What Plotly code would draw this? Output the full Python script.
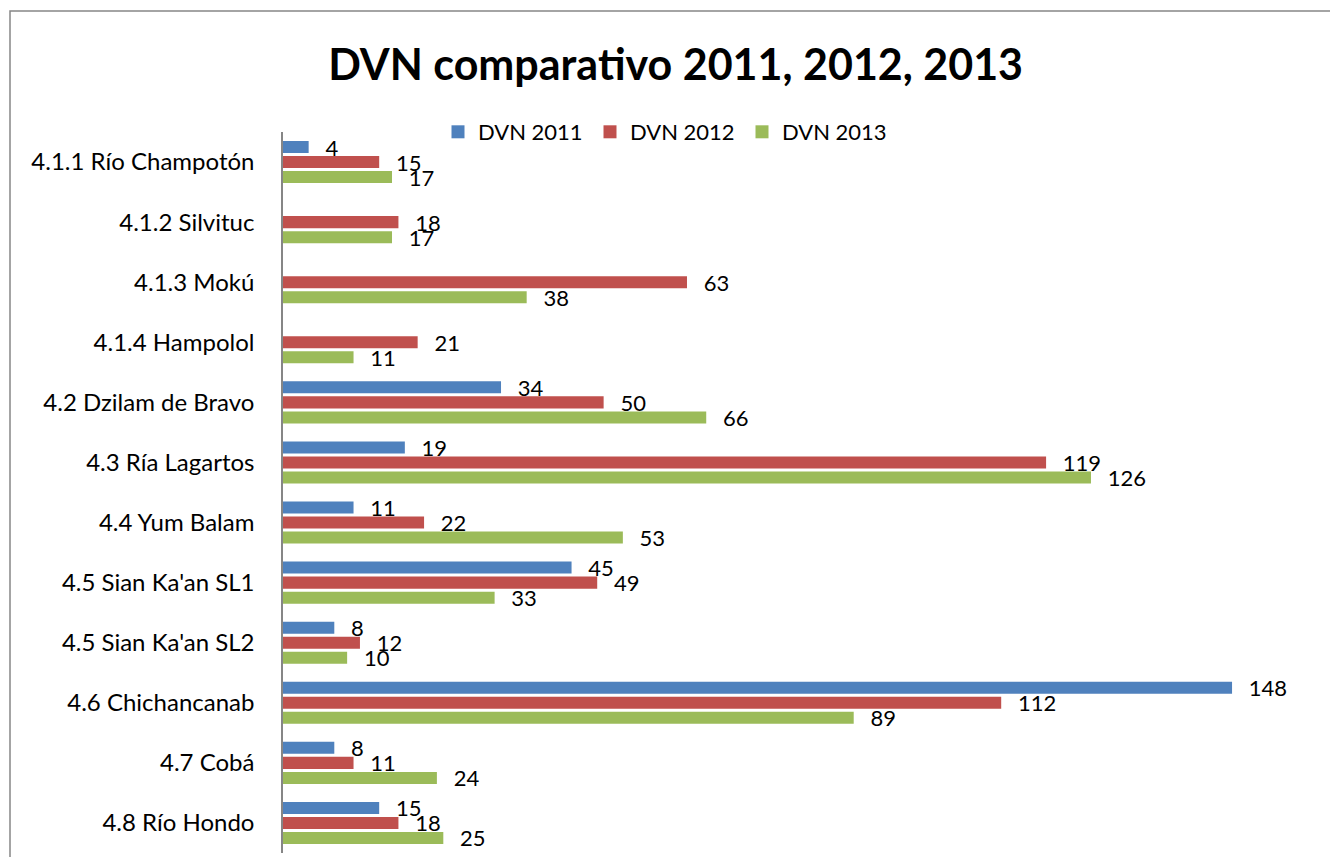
import plotly.graph_objects as go

categories = [
    "4.1.1 Río Champotón", "4.1.2 Silvituc", "4.1.3 Mokú", "4.1.4 Hampolol",
    "4.2 Dzilam de Bravo", "4.3 Ría Lagartos", "4.4 Yum Balam",
    "4.5 Sian Ka'an SL1", "4.5 Sian Ka'an SL2", "4.6 Chichancanab",
    "4.7 Cobá", "4.8 Río Hondo",
]
dvn_2011 = [4, None, None, None, 34, 19, 11, 45, 8, 148, 8, 15]
dvn_2012 = [15, 18, 63, 21, 50, 119, 22, 49, 12, 112, 11, 18]
dvn_2013 = [17, 17, 38, 11, 66, 126, 53, 33, 10, 89, 24, 25]
series_names = ["DVN 2011", "DVN 2012", "DVN 2013"]
colors = ["#4F81BD", "#C0504D", "#9BBB59"]

FONT = "Lato"
pad = "\u2002\u2009"

fig = go.Figure()
for name, vals, col in zip(series_names, [dvn_2011, dvn_2012, dvn_2013], colors):
    fig.add_trace(go.Bar(
        y=categories, x=vals, name=name, orientation="h",
        marker=dict(color=col, line=dict(width=0)),
        text=[(pad + str(v)) if v is not None else "" for v in vals],
        textposition="outside", cliponaxis=False, constraintext="none",
        textfont=dict(family=FONT, size=22, color="#000000"),
        hoverinfo="x+y+name", showlegend=False,
    ))
# legend entries with square swatches
for name, col in zip(series_names, colors):
    fig.add_trace(go.Scatter(
        x=[None], y=[None], mode="markers", name=name,
        marker=dict(symbol="square", size=13, color=col),
        showlegend=True,
    ))

W, H = 1330, 857
L, R, T, B = 283, 21, 132, 4
pw, ph = W - L - R, H - T - B

fig.update_layout(
    width=W, height=H,
    margin=dict(l=L, r=R, t=T, b=B, pad=0),
    paper_bgcolor="white", plot_bgcolor="white",
    barmode="group", bargap=0.25, bargroupgap=0.2,
    font=dict(family=FONT, size=22, color="#000000"),
    title=dict(text="<b>DVN comparativo 2011, 2012, 2013</b>",
               x=0.508, xanchor="center", y=1 - 65 / H, yanchor="middle",
               font=dict(family=FONT, size=43, color="#000000")),
    legend=dict(orientation="h", x=(438 - L) / pw, xanchor="left",
                y=1.0, yanchor="middle", bgcolor="rgba(0,0,0,0)",
                font=dict(family=FONT, size=22),
                entrywidth=107, entrywidthmode="pixels",
                itemwidth=30, traceorder="normal"),
    xaxis=dict(range=[0, 160], visible=False, showgrid=False, zeroline=False),
    yaxis=dict(autorange="reversed", showline=True, linecolor="#868686",
               linewidth=1.5, ticks="", showgrid=False, ticklabelstandoff=22,
               tickfont=dict(family=FONT, size=24, color="#000000")),
    shapes=[dict(type="rect", xref="paper", yref="paper",
                 x0=(10 - L) / pw, x1=(W + 20 - L) / pw,
                 y0=-(B + 20) / ph, y1=(H - B - 11) / ph,
                 line=dict(color="#868686", width=1.5), fillcolor="rgba(0,0,0,0)")],
)

fig.write_html("out.html")
